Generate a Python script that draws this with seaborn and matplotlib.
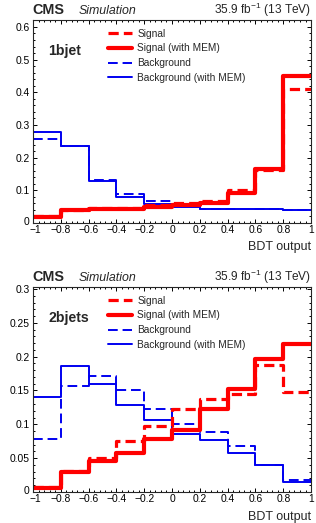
import numpy as np
import pandas as pd
import matplotlib
matplotlib.use("Agg")
import matplotlib.pyplot as plt
import matplotlib.transforms as mtransforms
import seaborn as sns
from matplotlib.ticker import MultipleLocator

# bin edges of the BDT output
edges = np.linspace(-1, 1, 11)
centers = (edges[:-1] + edges[1:]) / 2

# 1bjet
sig_1b = [0.020, 0.040, 0.047, 0.047, 0.055, 0.060, 0.068, 0.100, 0.162, 0.410]
sig_mem_1b = [0.018, 0.040, 0.043, 0.044, 0.050, 0.055, 0.062, 0.093, 0.165, 0.450]
bkg_1b = [0.257, 0.235, 0.133, 0.090, 0.068, 0.053, 0.043, 0.044, 0.043, 0.039]
bkg_mem_1b = [0.280, 0.235, 0.130, 0.080, 0.059, 0.049, 0.043, 0.044, 0.043, 0.039]

# 2bjets
sig_2b = [0.007, 0.031, 0.050, 0.076, 0.097, 0.123, 0.138, 0.145, 0.187, 0.148]
sig_mem_2b = [0.006, 0.030, 0.046, 0.057, 0.079, 0.092, 0.123, 0.152, 0.196, 0.218]
bkg_2b = [0.078, 0.156, 0.171, 0.151, 0.123, 0.101, 0.089, 0.068, 0.040, 0.017]
bkg_mem_2b = [0.140, 0.186, 0.159, 0.128, 0.106, 0.086, 0.077, 0.058, 0.040, 0.015]

series_names = ["Signal", "Signal (with MEM)", "Background", "Background (with MEM)"]
x_ticks = [-1, -0.8, -0.6, -0.4, -0.2, 0, 0.2, 0.4, 0.6, 0.8, 1]
x_ticklabels = ["\u22121", "\u22120.8", "\u22120.6", "\u22120.4", "\u22120.2", "0",
                "0.2", "0.4", "0.6", "0.8", "1"]
y_ticks_1b = [0, 0.1, 0.2, 0.3, 0.4, 0.5, 0.6]
y_ticklabels_1b = ["0", "0.1", "0.2", "0.3", "0.4", "0.5", "0.6"]
y_ticks_2b = [0, 0.05, 0.1, 0.15, 0.2, 0.25, 0.3]
y_ticklabels_2b = ["0", "0.05", "0.1", "0.15", "0.2", "0.25", "0.3"]

sns.set_style("ticks")
plt.rcParams["font.family"] = ["Liberation Sans", "DejaVu Sans"]
plt.rcParams["mathtext.default"] = "regular"

styles = {
    "Signal": dict(color="red", lw=2.3, linestyle="--", dashes=(3.2, 1.6)),
    "Signal (with MEM)": dict(color="red", lw=3.0, linestyle="-"),
    "Background": dict(color="#0000f0", lw=1.4, linestyle="--", dashes=(5, 2.5)),
    "Background (with MEM)": dict(color="#0000f0", lw=1.4, linestyle="-"),
}

fig = plt.figure(figsize=(3.16, 5.23), dpi=100)
ax1 = fig.add_axes([0.1044, 0.5736, 0.88, 0.388])
ax2 = fig.add_axes([0.1044, 0.0593, 0.88, 0.392])

panels = [
    (ax1, "1bjet", [sig_1b, sig_mem_1b, bkg_1b, bkg_mem_1b], 0.621,
     y_ticks_1b, y_ticklabels_1b, 0.02, 0.973),
    (ax2, "2bjets", [sig_2b, sig_mem_2b, bkg_2b, bkg_mem_2b], 0.303,
     y_ticks_2b, y_ticklabels_2b, 0.01, 0.463),
]

for ax, tag, vals, ymax, yt, ytl, yminor, head_y in panels:
    # draw order: backgrounds below signals
    for name, v in zip(series_names[::-1], vals[::-1]):
        df = pd.DataFrame({"x": centers, "w": v})
        sns.histplot(data=df, x="x", weights="w", bins=len(centers),
                     binrange=(edges[0], edges[-1]), element="step",
                     fill=False, ax=ax, label=name, **styles[name])
    ax.set_xlim(-1, 1)
    ax.set_ylim(0, ymax)
    ax.set_xticks(x_ticks)
    ax.set_xticklabels(x_ticklabels)
    ax.set_yticks(yt)
    ax.set_yticklabels(ytl)
    ax.xaxis.set_minor_locator(MultipleLocator(0.04))
    ax.yaxis.set_minor_locator(MultipleLocator(yminor))
    ax.tick_params(which="both", direction="in", top=True, right=True,
                   labelsize=7.4, width=0.7, colors="black")
    ax.tick_params(which="major", length=3.2)
    ax.tick_params(which="minor", length=1.7)
    ax.tick_params(axis="x", pad=1.5)
    ax.tick_params(axis="y", pad=2.5)
    # nudge the corner labels apart like in the original
    first = ax.get_xticklabels()[0]
    first.set_transform(first.get_transform() +
                        mtransforms.ScaledTranslation(2 / 100, 0, fig.dpi_scale_trans))
    zero = ax.get_yticklabels()[0]
    zero.set_transform(zero.get_transform() +
                       mtransforms.ScaledTranslation(0, 2 / 100, fig.dpi_scale_trans))
    for s in ax.spines.values():
        s.set_linewidth(0.8)
    ax.set_xlabel("")
    ax.set_ylabel("")
    ax.text(1.0, -0.12, "BDT output", transform=ax.transAxes, ha="right",
            va="center", fontsize=9.0)
    ax.text(0.054, 0.847, tag, transform=ax.transAxes, ha="left", va="center",
            fontsize=10.2, fontweight="bold")
    handles, labels = ax.get_legend_handles_labels()
    order = [labels.index(n) for n in series_names]
    ax.legend([handles[i] for i in order], [labels[i] for i in order],
              loc="upper left", bbox_to_anchor=(0.27, 0.958), frameon=False,
              fontsize=7.3, handlelength=2.4, labelspacing=0.47,
              handletextpad=0.5, borderaxespad=0, borderpad=0)
    fig.text(0.104, head_y, "CMS", fontsize=10.4, fontweight="bold",
             ha="left", va="baseline")
    fig.text(0.25, head_y, "Simulation", fontsize=8.9, style="italic",
             ha="left", va="baseline")
    fig.text(0.984, head_y, "35.9 fb$^{-1}$ (13 TeV)", fontsize=8.6,
             ha="right", va="baseline")

fig.savefig("out.png", dpi=100)
